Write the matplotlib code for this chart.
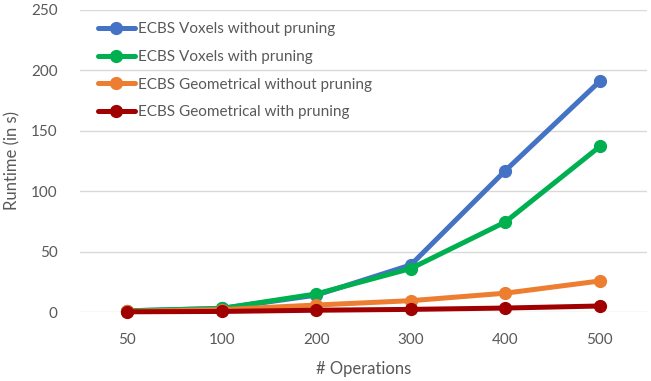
import matplotlib.pyplot as plt

# data
operations = ['50', '100', '200', '300', '400', '500']
voxels_no_prune = [1, 3, 14, 39, 117, 191]
voxels_prune = [1, 3, 15, 36, 74.5, 137]
geom_no_prune = [0.5, 2, 5.8, 9.4, 15.6, 25.7]
geom_prune = [0.2, 0.5, 1.5, 2.2, 3.3, 5]

series = [
    ('ECBS Voxels without pruning', voxels_no_prune, '#4472C4'),
    ('ECBS Voxels with pruning', voxels_prune, '#00B050'),
    ('ECBS Geometrical without pruning', geom_no_prune, '#ED7D31'),
    ('ECBS Geometrical with pruning', geom_prune, '#A00000'),
]

plt.rcParams['font.family'] = ['Lato', 'DejaVu Sans']
text_col = '#595959'

fig = plt.figure(figsize=(6.51, 3.81), dpi=100)
ax = fig.add_axes([0.123, 0.181, 0.871, 0.793])

x = list(range(len(operations)))
for label, vals, col in series:
    ax.plot(x, vals, color=col, lw=3.6, marker='o', ms=8.5,
            label=label, clip_on=False, solid_capstyle='round', zorder=3)

ax.set_xlim(-0.5, len(operations) - 0.5)
ax.set_ylim(0, 250)
ax.set_yticks(range(0, 251, 50))
ax.set_xticks(x)
ax.set_xticklabels(operations)
ax.grid(axis='y', color='#D9D9D9', lw=1)
ax.set_axisbelow(True)
for s in ax.spines.values():
    s.set_visible(False)
ax.tick_params(length=0, labelsize=11, labelcolor=text_col)
ax.tick_params(axis='x', pad=15)
ax.tick_params(axis='y', pad=16)

ax.set_xlabel('# Operations', fontsize=12, color=text_col, labelpad=10)
ax.set_ylabel('Runtime (in s)', fontsize=12, color=text_col)
ax.yaxis.set_label_coords(-0.105, 0.5)

ax.legend(loc='upper left', bbox_to_anchor=(0.01, 1.0), frameon=False,
          fontsize=11, labelcolor=text_col, handlelength=2.4,
          handletextpad=0.2, labelspacing=0.9, borderaxespad=0.4)

fig.savefig('out.png', dpi=100)
